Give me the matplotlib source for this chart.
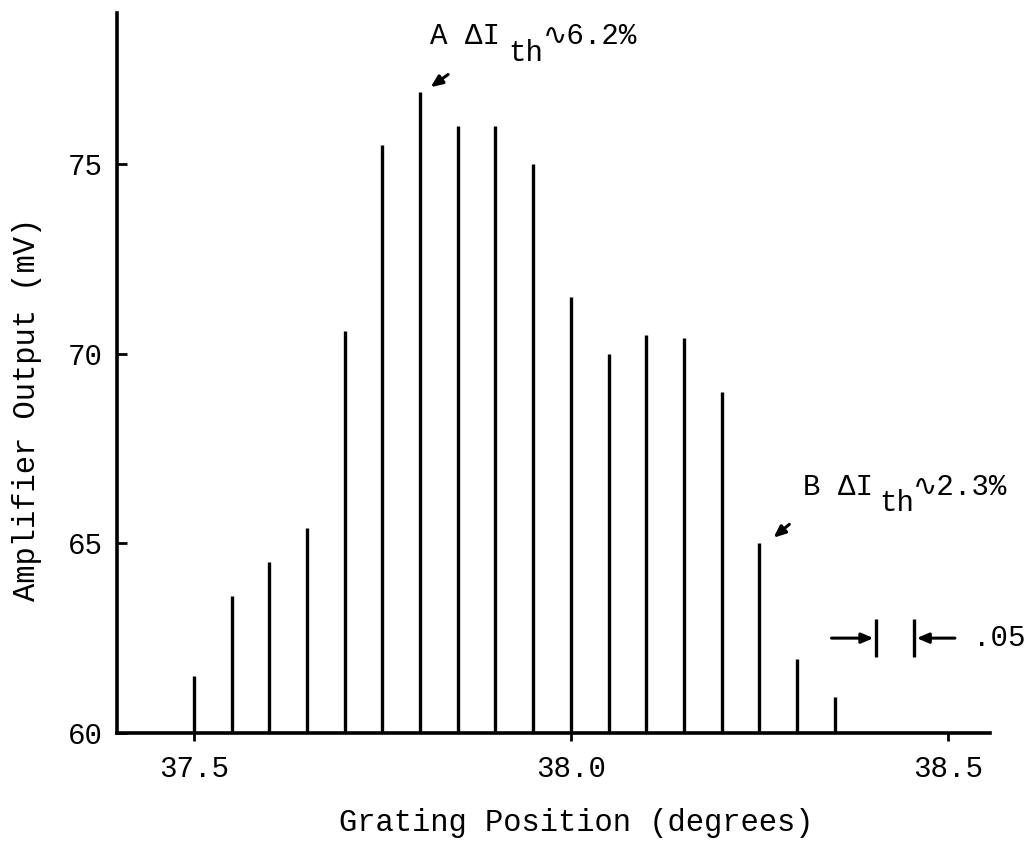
import matplotlib
matplotlib.use("Agg")
import matplotlib.pyplot as plt

# Grating scan: amplifier output at each grating step
positions = [37.50, 37.55, 37.60, 37.65, 37.70, 37.75, 37.80, 37.85, 37.90,
             37.95, 38.00, 38.05, 38.10, 38.15, 38.20, 38.25, 38.30, 38.35]
output_mv = [61.5, 63.6, 64.5, 65.4, 70.6, 75.5, 76.9, 76.0, 76.0,
             75.0, 71.5, 70.0, 70.5, 70.4, 69.0, 65.0, 61.95, 60.95]

x_ticks = [37.5, 38.0, 38.5]
x_tick_labels = ["37.5", "38.0", "38.5"]
y_ticks = [60, 65, 70, 75]

step = 0.05  # grating step marked on the scale bar

MONO = ["Liberation Mono", "DejaVu Sans Mono", "DejaVu Sans"]
plt.rcParams["font.family"] = MONO

fig = plt.figure(figsize=(10.26, 8.42), dpi=100)
ax = fig.add_axes([0.114, 0.1295, 0.851, 0.8551])

ax.vlines(positions, 60, output_mv, colors="black", linewidth=2.4)

ax.set_xlim(37.398, 38.556)
ax.set_ylim(60, 78.98)

for side in ("top", "right"):
    ax.spines[side].set_visible(False)
for side in ("left", "bottom"):
    ax.spines[side].set_linewidth(2.6)

ax.set_xticks(x_ticks)
ax.set_xticklabels(x_tick_labels)
ax.set_yticks(y_ticks)
ax.tick_params(axis="x", direction="out", length=6, width=2, pad=10, labelsize=21)
ax.tick_params(axis="y", direction="in", length=7, width=2, pad=10, labelsize=21)

ax.set_xlabel("Grating Position (degrees)", fontsize=22)
ax.xaxis.set_label_coords(0.526, -0.104)
ax.set_ylabel("Amplifier Output (mV)", fontsize=22)
ax.yaxis.set_label_coords(-0.086, 0.45)

txt = dict(fontsize=21, va="center", ha="left", color="black")
arrow = dict(arrowstyle="-|>,head_length=0.7,head_width=0.3", color="black", lw=2.2)

# Peak A
ia = positions.index(37.80)
ax.text(37.813, 78.38, "A ΔI", **txt)
ax.text(37.917, 77.93, "th", **txt)
ax.text(37.963, 78.38, "∿6.2%", **txt)
ax.annotate("", xy=(positions[ia] + 0.011, output_mv[ia] + 0.08),
            xytext=(22, 16), textcoords="offset pixels", arrowprops=arrow)

# Peak B
ib = positions.index(38.25)
ax.text(38.308, 66.49, "B ΔI", **txt)
ax.text(38.409, 66.06, "th", **txt)
ax.text(38.454, 66.49, "∿2.3%", **txt)
ax.annotate("", xy=(positions[ib] + 0.016, output_mv[ib] + 0.1),
            xytext=(20, 17), textcoords="offset pixels", arrowprops=arrow)

# Scale bar showing one grating step
x0, yc = 38.405, 62.5
ax.vlines([x0, x0 + step], yc - 0.5, yc + 0.5, colors="black", linewidth=2.4)
ax.annotate("", xy=(x0, yc), xytext=(38.342, yc), arrowprops=arrow)
ax.annotate("", xy=(x0 + step, yc), xytext=(38.513, yc), arrowprops=arrow)
ax.text(38.533, yc, ".05", **txt)

fig.savefig("out.png", dpi=100)
